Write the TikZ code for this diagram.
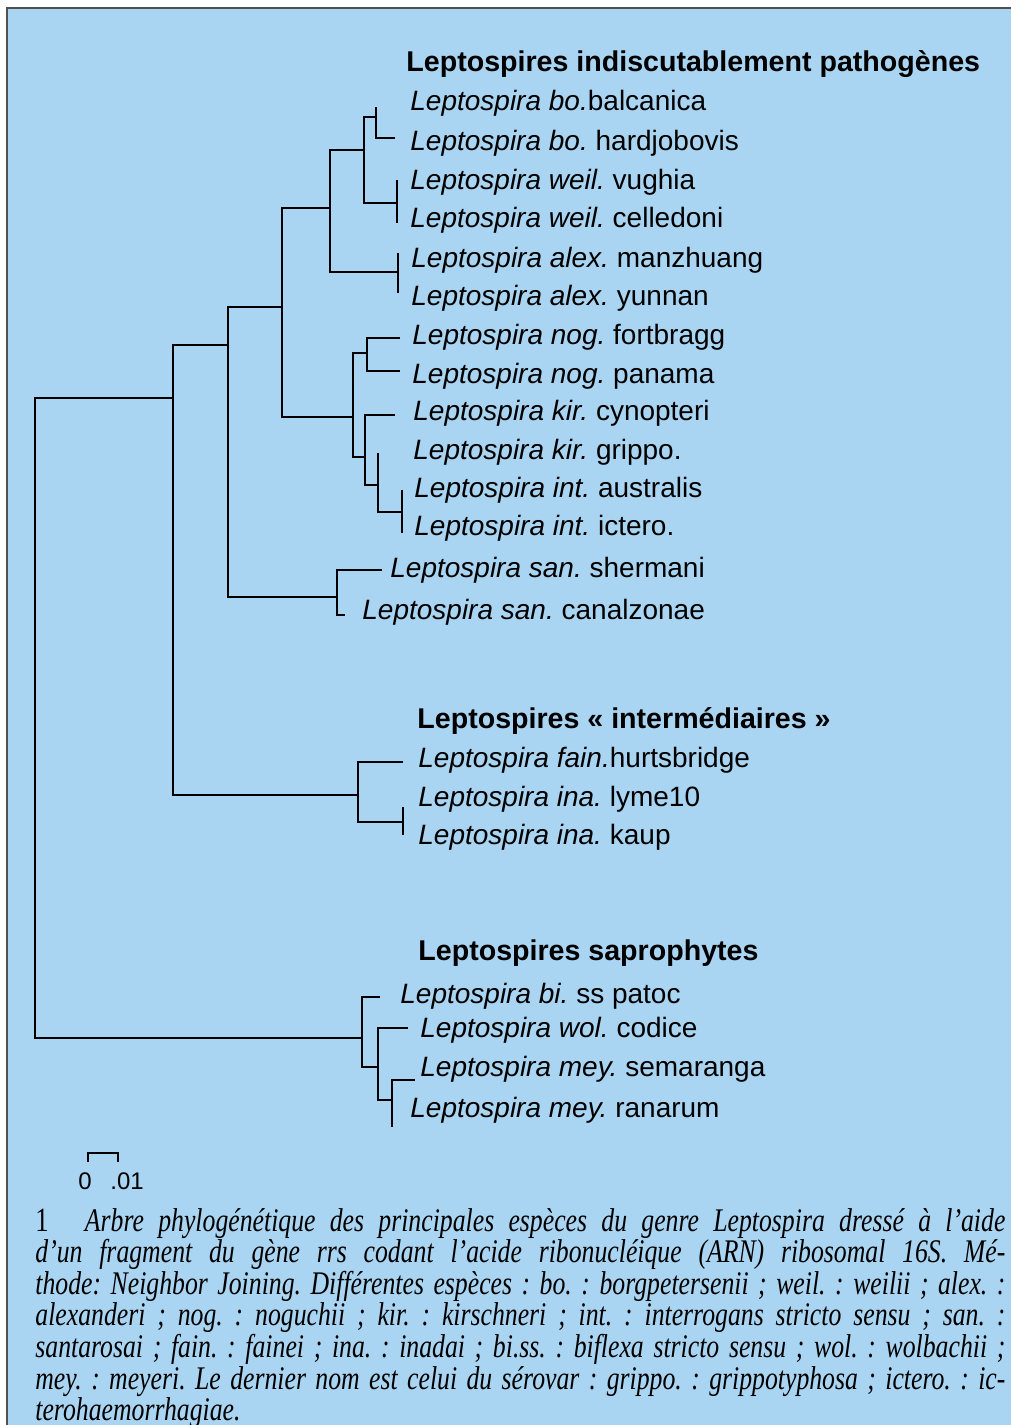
\documentclass[tikz,border=0pt]{standalone}
\usepackage{fontspec}
\setmainfont{Liberation Sans}
\newfontfamily\capfont{Liberation Serif}[FakeStretch=0.78]
\definecolor{bgblue}{RGB}{169,213,242}
\definecolor{framegray}{RGB}{80,80,80}
\frenchspacing
\begin{document}
\begin{tikzpicture}[x=0.5pt,y=-0.5pt,
  branch/.style={line width=1.4pt,black},
  lab/.style={anchor=base west,inner sep=0pt,font=\fontsize{14}{16}\selectfont},
  hdr/.style={anchor=base west,inner sep=0pt,font=\fontsize{14.3}{16}\selectfont\bfseries},
  scalelab/.style={inner sep=0pt,font=\fontsize{12}{13}\selectfont}]
\useasboundingbox (0,0) rectangle (1011,1425);
\fill[white] (0,0) rectangle (1011,1425);
\fill[bgblue] (7,8) rectangle (1011,1425);
\draw[framegray,line width=1pt] (7,1425) -- (7,8) -- (1011,8);

% internal nodes (x, attachment y)
\coordinate (R) at (35,700);
\coordinate (G) at (173,398);
\coordinate (F) at (228,345);
\coordinate (B) at (282,307);
\coordinate (A) at (330,208);
\coordinate (BW) at (364,150);
\coordinate (bo) at (376,117);
\coordinate (weil) at (397,203);
\coordinate (alex) at (398,272);
\coordinate (C) at (353,417);
\coordinate (nog) at (367,353);
\coordinate (D) at (365,457);
\coordinate (E) at (378,485);
\coordinate (int) at (402,512);
\coordinate (san) at (337,597);
\coordinate (IN) at (358,795);
\coordinate (ina) at (403,822);
\coordinate (H) at (362,1038);
\coordinate (I) at (378,1067);
\coordinate (mey) at (392,1100);
% leaf tips
\coordinate (t1) at (376,107);
\coordinate (t2) at (395,138);
\coordinate (t3) at (397,180);
\coordinate (t4) at (397,223);
\coordinate (t5) at (398,253);
\coordinate (t6) at (398,293);
\coordinate (t7) at (400,338);
\coordinate (t8) at (400,371);
\coordinate (t9) at (395,415);
\coordinate (t10) at (378,453);
\coordinate (t11) at (402,490);
\coordinate (t12) at (402,533);
\coordinate (t13) at (382,570);
\coordinate (t14) at (345,615);
\coordinate (t15) at (403,762);
\coordinate (t16) at (403,807);
\coordinate (t17) at (403,835);
\coordinate (t18) at (380,997);
\coordinate (t19) at (408,1028);
\coordinate (t20) at (415,1080);
\coordinate (t21) at (392,1127);

\begin{scope}[branch]
\draw (R) |- (G); \draw (R) |- (H);
\draw (G) |- (F); \draw (G) |- (IN);
\draw (F) |- (B); \draw (F) |- (san);
\draw (B) |- (A); \draw (B) |- (C);
\draw (A) |- (BW); \draw (A) |- (alex);
\draw (BW) |- (bo); \draw (BW) |- (weil);
\draw (bo) |- (t1); \draw (bo) |- (t2);
\draw (weil) |- (t3); \draw (weil) |- (t4);
\draw (alex) |- (t5); \draw (alex) |- (t6);
\draw (C) |- (nog); \draw (C) |- (D);
\draw (nog) |- (t7); \draw (nog) |- (t8);
\draw (D) |- (t9); \draw (D) |- (E);
\draw (E) |- (t10); \draw (E) |- (int);
\draw (int) |- (t11); \draw (int) |- (t12);
\draw (san) |- (t13); \draw (san) |- (t14);
\draw (IN) |- (t15); \draw (IN) |- (ina);
\draw (ina) |- (t16); \draw (ina) |- (t17);
\draw (H) |- (t18); \draw (H) |- (I);
\draw (I) |- (t19); \draw (I) |- (mey);
\draw (mey) |- (t20); \draw (mey) |- (t21);
\end{scope}

% labels
\node[hdr] (h1) at (406,71) {Leptospires indiscutablement pathogènes};
\node[lab] (l1) at (410,110) {\textit{Leptospira bo.}balcanica};
\node[lab] (l2) at (410,150) {\textit{Leptospira bo.} hardjobovis};
\node[lab] (l3) at (410,189) {\textit{Leptospira weil.} vughia};
\node[lab] (l4) at (410,227) {\textit{Leptospira weil.} celledoni};
\node[lab] (l5) at (411,267) {\textit{Leptospira alex.} manzhuang};
\node[lab] (l6) at (411,305) {\textit{Leptospira alex.} yunnan};
\node[lab] (l7) at (412,344) {\textit{Leptospira nog.} fortbragg};
\node[lab] (l8) at (412,383) {\textit{Leptospira nog.} panama};
\node[lab] (l9) at (413,420) {\textit{Leptospira kir.} cynopteri};
\node[lab] (l10) at (413,459) {\textit{Leptospira kir.} grippo.};
\node[lab] (l11) at (414,497) {\textit{Leptospira int.} australis};
\node[lab] (l12) at (414,535) {\textit{Leptospira int.} ictero.};
\node[lab] (l13) at (390,577) {\textit{Leptospira san.} shermani};
\node[lab] (l14) at (362,619) {\textit{Leptospira san.} canalzonae};
\node[hdr] (h2) at (417,728) {Leptospires «~intermédiaires~»};
\node[lab] (l15) at (418,767) {\textit{Leptospira fain.}hurtsbridge};
\node[lab] (l16) at (418,806) {\textit{Leptospira ina.} lyme10};
\node[lab] (l17) at (418,844) {\textit{Leptospira ina.} kaup};
\node[hdr] (h3) at (418,960) {Leptospires saprophytes};
\node[lab] (l18) at (400,1003) {\textit{Leptospira bi.} ss patoc};
\node[lab] (l19) at (420,1037) {\textit{Leptospira wol.} codice};
\node[lab] (l20) at (420,1076) {\textit{Leptospira mey.} semaranga};
\node[lab] (l21) at (410,1117) {\textit{Leptospira mey.} ranarum};

% scale bar
\coordinate (s0) at (88,1153);
\coordinate (s1) at (118,1153);
\draw[line width=1.2pt] ([yshift=-4.5pt]s0) -- (s0) -- (s1) -- ([yshift=-4.5pt]s1);
\node[scalelab,anchor=base] (z0) at (85,1189) {0};
\node[scalelab,anchor=base west] (z1) at (110,1189) {.01};

% caption
\node[anchor=base west,inner sep=0pt,text width=485pt,align=justify,
  font=\capfont\itshape\fontsize{16.5}{15.8}\selectfont] (cap) at (35,1231)
{\textup{\fontsize{17}{15.8}\selectfont 1}\hspace{1.1em}Arbre phylogénétique des principales espèces du genre Leptospira dressé à l’aide\linebreak
d’un fragment du gène rrs codant l’acide ribonucléique (ARN) ribosomal 16S. Mé-\linebreak
thode: Neighbor Joining. Différentes espèces : bo. : borgpetersenii ; weil. : weilii ; alex. :\linebreak
alexanderi ; nog. : noguchii ; kir. : kirschneri ; int. : interrogans stricto sensu ; san. :\linebreak
santarosai ; fain. : fainei ; ina. : inadai ; bi.ss. : biflexa stricto sensu ; wol. : wolbachii ;\linebreak
mey. : meyeri. Le dernier nom est celui du sérovar : grippo. : grippotyphosa ; ictero. : ic-\linebreak
terohaemorrhagiae.};
\end{tikzpicture}
\end{document}
